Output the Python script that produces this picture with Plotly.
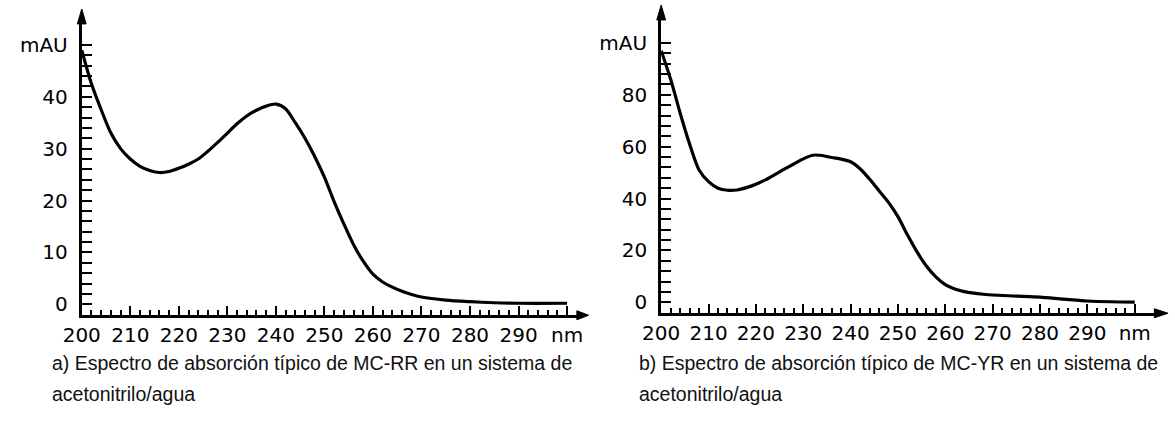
import plotly.graph_objects as go

# ---------------- data ----------------
wl_rr = [200, 202, 204, 206, 208, 210, 212, 214, 216, 218, 220, 222, 224, 226, 228,
         230, 232, 234, 236, 238, 240, 242, 244, 246, 248, 250, 252, 254, 256, 258,
         260, 262, 264, 266, 268, 270, 275, 280, 285, 290, 300]
abs_rr = [49, 42.5, 37.5, 33, 30, 28, 26.6, 25.8, 25.4, 25.6, 26.2, 27, 28, 29.5, 31.2,
          33, 34.8, 36.3, 37.4, 38.2, 38.6, 37.7, 35, 32, 28.5, 24.5, 19.8, 15.5, 11.5, 8.3,
          5.8, 4.3, 3.3, 2.5, 1.9, 1.4, 0.8, 0.5, 0.3, 0.2, 0.2]

wl_yr = [200, 202, 204, 206, 208, 210, 212, 214, 216, 218, 220, 222, 224, 226, 228,
         230, 232, 234, 236, 238, 240, 242, 244, 246, 248, 250, 252, 254, 256, 258,
         260, 262, 264, 266, 268, 270, 275, 280, 285, 290, 295, 300]
abs_yr = [97, 86, 73, 61, 51, 46.5, 44, 43.2, 43.3, 44.2, 45.5, 47.2, 49.2, 51.3, 53.3,
          55.3, 56.7, 56.6, 55.8, 55.2, 54.2, 51.5, 47.5, 43, 38.5, 33, 26, 19.5, 14, 9.8,
          6.8, 5.1, 4.1, 3.5, 3.1, 2.8, 2.4, 2.0, 1.2, 0.5, 0.2, 0.1]

x_tickvals = [200, 210, 220, 230, 240, 250, 260, 270, 280, 290, 300]
x_ticktext = ["200", "210", "220", "230", "240", "250", "260", "270", "280", "290", "nm"]
y_tickvals_rr = [0, 10, 20, 30, 40, 50]
y_ticktext_rr = ["0", "10", "20", "30", "40", "mAU"]
y_tickvals_yr = [0, 20, 40, 60, 80, 100]
y_ticktext_yr = ["0", "20", "40", "60", "80", "mAU"]

caption_a = ["a) Espectro de absorción típico de MC-RR en un sistema de", "acetonitrilo/agua"]
caption_b = ["b) Espectro de absorción típico de MC-YR en un sistema de", "acetonitrilo/agua"]

# ---------------- layout helpers ----------------
W, H = 1175, 424
def px(x):
    return x / W
def py(y):
    return 1 - y / H

TICKFONT = dict(family="DejaVu Sans", size=20, color="black")

fig = go.Figure()
fig.add_trace(go.Scatter(x=wl_rr, y=abs_rr, mode="lines", line=dict(color="black", width=3.2, shape="spline", smoothing=0.8),
                         xaxis="x", yaxis="y", showlegend=False, hoverinfo="skip"))
fig.add_trace(go.Scatter(x=wl_yr, y=abs_yr, mode="lines", line=dict(color="black", width=3.2, shape="spline", smoothing=0.8),
                         xaxis="x2", yaxis="y2", showlegend=False, hoverinfo="skip"))

def xaxis_cfg(domain, rng, anchor):
    return dict(domain=domain, range=rng, anchor=anchor, showgrid=False, zeroline=False,
                showline=True, linecolor="black", linewidth=3,
                tickmode="array", tickvals=x_tickvals, ticktext=x_ticktext,
                ticks="inside", ticklen=9, tickwidth=2.2, tickcolor="black",
                tickfont=TICKFONT, ticklabelstandoff=0,
                minor=dict(tickmode="array", tickvals=[v for v in range(202, 300, 2) if v % 10],
                           ticks="inside", ticklen=5, tickwidth=2.2, tickcolor="black", showgrid=False))

def yaxis_cfg(domain, rng, anchor, tv, tt, minor_vals):
    return dict(domain=domain, range=rng, anchor=anchor, showgrid=False, zeroline=False,
                showline=True, linecolor="black", linewidth=3,
                tickmode="array", tickvals=tv, ticktext=tt,
                ticks="inside", ticklen=10, tickwidth=2.2, tickcolor="black",
                tickfont=TICKFONT, ticklabelstandoff=7,
                minor=dict(tickmode="array", tickvals=minor_vals,
                           ticks="inside", ticklen=10, tickwidth=2.2, tickcolor="black", showgrid=False))

# panel geometry (pixels)
L_x0, L_x1, L_ybot, L_ytop = 64, 571, 316, 22
R_x0, R_x1, R_ybot, R_ytop = 655, 1160, 314, 18

fig.update_layout(
    width=W, height=H, margin=dict(l=0, r=0, t=0, b=0),
    paper_bgcolor="white", plot_bgcolor="white",
    xaxis=xaxis_cfg([px(L_x0), px(L_x1)], [200, 200 + (L_x1 - L_x0) / 4.95], "y"),
    yaxis=yaxis_cfg([py(L_ybot), py(L_ytop)], [(305 - L_ybot) / 5.2, (305 - L_ytop) / 5.2], "x",
                    y_tickvals_rr, y_ticktext_rr, [v for v in range(0, 51, 2) if v % 10]),
    xaxis2=xaxis_cfg([px(R_x0), px(R_x1)], [200, 200 + (R_x1 - R_x0) / 4.83], "y2"),
    yaxis2=yaxis_cfg([py(R_ybot), py(R_ytop)], [(303 - R_ybot) / 2.6, (303 - R_ytop) / 2.6], "x2",
                     y_tickvals_yr, y_ticktext_yr, [v for v in range(0, 101, 4) if v % 20]),
)

# arrowheads
def tri(p1, p2, p3):
    return "M {} {} L {} {} L {} {} Z".format(px(p1[0]), py(p1[1]), px(p2[0]), py(p2[1]), px(p3[0]), py(p3[1]))

shapes = [
    dict(type="path", xref="paper", yref="paper", path=tri((L_x0, 9), (L_x0 - 4.5, L_ytop + 2), (L_x0 + 4.5, L_ytop + 2)),
         fillcolor="black", line=dict(color="black", width=1)),
    dict(type="path", xref="paper", yref="paper", path=tri((L_x1 + 10, L_ybot), (L_x1 - 2, L_ybot - 4.5), (L_x1 - 2, L_ybot + 4.5)),
         fillcolor="black", line=dict(color="black", width=1)),
    dict(type="path", xref="paper", yref="paper", path=tri((R_x0, 5), (R_x0 - 4.5, R_ytop + 2), (R_x0 + 4.5, R_ytop + 2)),
         fillcolor="black", line=dict(color="black", width=1)),
    dict(type="path", xref="paper", yref="paper", path=tri((R_x1 + 12, R_ybot), (R_x1 - 2, R_ybot - 4.5), (R_x1 - 2, R_ybot + 4.5)),
         fillcolor="black", line=dict(color="black", width=1)),
]
fig.update_layout(shapes=shapes)

capfont = dict(family="Liberation Sans, Arial", size=19.5, color="#111")
for cap, x0 in ((caption_a, 32), (caption_b, 630)):
    for i, line in enumerate(cap):
        fig.add_annotation(text=line, xref="paper", yref="paper", x=px(x0), y=py(364 + 31 * i),
                           xanchor="left", yanchor="middle", align="left", showarrow=False, font=capfont)

fig.write_html("out.html")
